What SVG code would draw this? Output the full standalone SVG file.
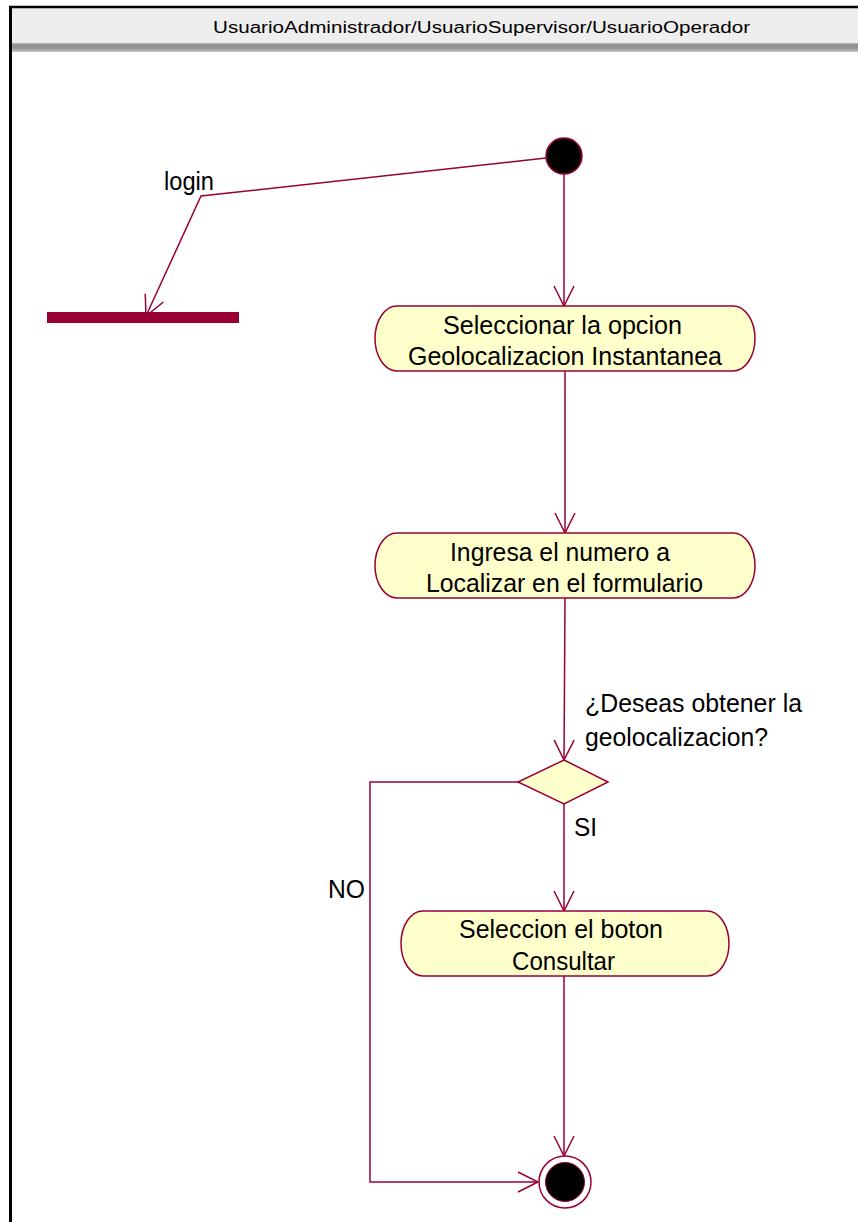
<svg xmlns="http://www.w3.org/2000/svg" width="858" height="1222" viewBox="0 0 858 1222">
  <style>
    .edge { fill: none; stroke: #990033; stroke-width: 1.5; }
    .act { fill: #FFFFCC; stroke: #990033; stroke-width: 1.5; }
    .lbl { font-family: "Liberation Sans", Arial, sans-serif; font-size: 25px; fill: #000; }
    .hdr { font-family: "Liberation Sans", Arial, sans-serif; font-size: 16px; fill: #000; }
  </style>
  <defs>
    <linearGradient id="band" x1="0" y1="0" x2="0" y2="1">
      <stop offset="0" stop-color="#b4b4b4"/>
      <stop offset="0.3" stop-color="#8c8c8c"/>
      <stop offset="0.6" stop-color="#9a9a9a"/>
      <stop offset="1" stop-color="#c8c8c8"/>
    </linearGradient>
    <marker id="arrow" viewBox="-24 -14 28 28" markerWidth="28" markerHeight="28" refX="0" refY="0" orient="auto" markerUnits="userSpaceOnUse">
      <path d="M-20,-10 L0,0 L-20,10" fill="none" stroke="#990033" stroke-width="1.5"/>
    </marker>
  </defs>

  <!-- swimlane frame -->
  <g id="lane">
    <rect x="0" y="0" width="858" height="1222" fill="#ffffff"/>
    <rect x="11" y="8" width="847" height="35" fill="#eeeeee"/>
    <rect x="11" y="43" width="847" height="9" fill="url(#band)"/>
    <line x1="9" y1="7" x2="858" y2="7" stroke="#000" stroke-width="2.5"/>
    <line x1="10.5" y1="6" x2="10.5" y2="1222" stroke="#000" stroke-width="3"/>
    <text class="hdr" x="213" y="33" textLength="537" lengthAdjust="spacingAndGlyphs">UsuarioAdministrador/UsuarioSupervisor/UsuarioOperador</text>
  </g>

  <!-- connectors -->
  <g id="connectors">
    <polyline class="edge" points="546,158 201,196 146,316" marker-end="url(#arrow)"/>
    <line class="edge" x1="564" y1="174" x2="564" y2="306" marker-end="url(#arrow)"/>
    <line class="edge" x1="565" y1="371" x2="565" y2="533" marker-end="url(#arrow)"/>
    <line class="edge" x1="565" y1="598" x2="564" y2="760" marker-end="url(#arrow)"/>
    <line class="edge" x1="564" y1="804" x2="564" y2="911" marker-end="url(#arrow)"/>
    <polyline class="edge" points="518,782 370,782 370,1182 538,1182" marker-end="url(#arrow)"/>
    <line class="edge" x1="564" y1="976" x2="564" y2="1156" marker-end="url(#arrow)"/>
    <text class="lbl" x="164" y="190" textLength="50" lengthAdjust="spacingAndGlyphs">login</text>
    <text class="lbl" x="585" y="712" textLength="217" lengthAdjust="spacingAndGlyphs">¿Deseas obtener la</text>
    <text class="lbl" x="585" y="746" textLength="183" lengthAdjust="spacingAndGlyphs">geolocalizacion?</text>
    <text class="lbl" x="574" y="836" textLength="23" lengthAdjust="spacingAndGlyphs">SI</text>
    <text class="lbl" x="328" y="898" textLength="37" lengthAdjust="spacingAndGlyphs">NO</text>
  </g>

  <!-- initial state -->
  <g id="start">
    <circle cx="564" cy="156" r="18" fill="#000" stroke="#990033" stroke-width="1.5"/>
  </g>

  <!-- synchronization bar -->
  <g id="sync">
    <rect x="47" y="312" width="192" height="11" fill="#990033"/>
  </g>

  <!-- activities -->
  <g id="act-seleccionar">
    <path class="act" d="M397,306 H733 A22,32.5 0 0 1 733,371 H397 A22,32.5 0 0 1 397,306 Z"/>
    <text class="lbl" x="443" y="334" textLength="239" lengthAdjust="spacingAndGlyphs">Seleccionar la opcion</text>
    <text class="lbl" x="408" y="365" textLength="314" lengthAdjust="spacingAndGlyphs">Geolocalizacion Instantanea</text>
  </g>

  <g id="act-ingresa">
    <path class="act" d="M397,533 H733 A22,32.5 0 0 1 733,598 H397 A22,32.5 0 0 1 397,533 Z"/>
    <text class="lbl" x="450" y="561" textLength="220" lengthAdjust="spacingAndGlyphs">Ingresa el numero a</text>
    <text class="lbl" x="426" y="592" textLength="277" lengthAdjust="spacingAndGlyphs">Localizar en el formulario</text>
  </g>

  <g id="decision">
    <polygon points="564,760 608,782 564,804 518,782" fill="#FFFFCC" stroke="#990033" stroke-width="1.5"/>
  </g>

  <g id="act-consultar">
    <path class="act" d="M423,911 H707 A22,32.5 0 0 1 707,976 H423 A22,32.5 0 0 1 423,911 Z"/>
    <text class="lbl" x="459" y="938" textLength="204" lengthAdjust="spacingAndGlyphs">Seleccion el boton</text>
    <text class="lbl" x="512" y="970" textLength="103" lengthAdjust="spacingAndGlyphs">Consultar</text>
  </g>

  <!-- final state -->
  <g id="end">
    <circle cx="565" cy="1182" r="26" fill="#fff" stroke="#990033" stroke-width="1.5"/>
    <circle cx="565" cy="1182" r="19.5" fill="#000" stroke="#990033" stroke-width="1"/>
  </g>
</svg>
